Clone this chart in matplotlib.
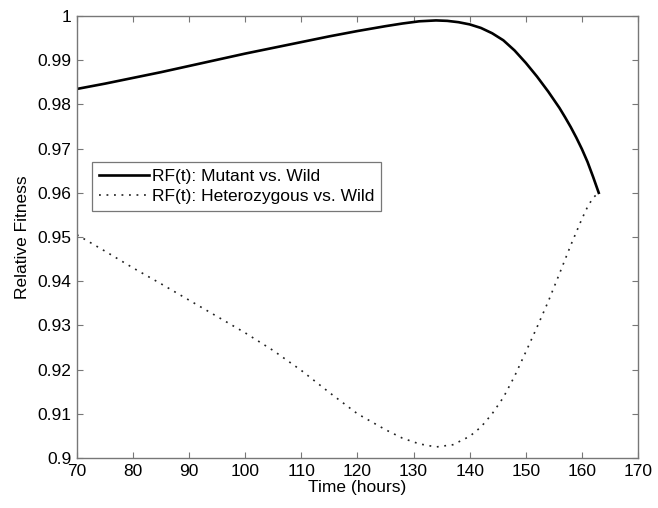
import matplotlib
matplotlib.use('Agg')
import matplotlib.pyplot as plt
from matplotlib.ticker import FuncFormatter

# values
t_mutant = [70, 75, 80, 85, 90, 95, 100, 105, 110, 115, 120, 125, 128, 131, 134, 136,
            138, 140, 142, 144, 146, 148, 150, 152, 154, 156, 157, 158, 159, 160,
            161, 162, 163]
rf_mutant = [0.9835, 0.9847, 0.9860, 0.9873, 0.9887, 0.9901, 0.9915, 0.9928, 0.9941,
             0.9954, 0.9966, 0.9977, 0.9983, 0.9988, 0.9990, 0.9989, 0.9986, 0.9981,
             0.9973, 0.9961, 0.9945, 0.9922, 0.9894, 0.9863, 0.9829, 0.9792, 0.9771,
             0.9749, 0.9725, 0.9699, 0.9670, 0.9636, 0.9600]

t_hetero = [70, 75, 80, 85, 90, 95, 100, 105, 110, 115, 120, 125, 128, 131, 134, 137,
            140, 142, 144, 146, 148, 150, 152, 154, 156, 158, 160, 161, 162, 163]
rf_hetero = [0.9505, 0.9468, 0.9430, 0.9394, 0.9357, 0.9320, 0.9283, 0.9243, 0.9198,
             0.9148, 0.9100, 0.9064, 0.9045, 0.9032, 0.9025, 0.9030, 0.9049, 0.9070,
             0.9100, 0.9137, 0.9185, 0.9240, 0.9296, 0.9354, 0.9417, 0.9481, 0.9541,
             0.9568, 0.9589, 0.9600]

x_ticks = [70, 80, 90, 100, 110, 120, 130, 140, 150, 160, 170]
y_ticks = [0.9, 0.91, 0.92, 0.93, 0.94, 0.95, 0.96, 0.97, 0.98, 0.99, 1.0]

plt.rcParams['font.family'] = ['Liberation Sans', 'DejaVu Sans']
plt.rcParams['font.size'] = 12.5

fig = plt.figure(figsize=(6.58, 5.08), dpi=100)
ax = fig.add_axes([0.117, 0.0984, 0.8526, 0.8701])

ax.plot(t_mutant, rf_mutant, color='black', linewidth=1.9,
        label='RF(t): Mutant vs. Wild')
ax.plot(t_hetero, rf_hetero, color='#222222', linewidth=1.2,
        linestyle=(0, (1.1, 3.4)), label='RF(t): Heterozygous vs. Wild')

ax.set_xlim(70, 170)
ax.set_ylim(0.9, 1.0)
ax.set_xticks(x_ticks)
ax.set_yticks(y_ticks)
ax.yaxis.set_major_formatter(FuncFormatter(lambda v, p: '%g' % round(v, 2)))
ax.tick_params(direction='in', length=4, width=0.8, color='#777777',
               top=True, right=True, labelsize=12.5, pad=4)
for s in ax.spines.values():
    s.set_color('#777777')
    s.set_linewidth(1.0)

ax.set_xlabel('Time (hours)', fontsize=12.5, labelpad=1)
ax.set_ylabel('Relative Fitness', fontsize=12.5, labelpad=5)

leg = ax.legend(loc='upper left', bbox_to_anchor=(92 / 658, 1 - 162 / 508),
                bbox_transform=fig.transFigure, borderaxespad=0,
                fancybox=False, framealpha=1, edgecolor='#777777',
                handlelength=2.9, handletextpad=0.15, labelspacing=0.3,
                borderpad=0.4, fontsize=12.5)
leg.get_frame().set_linewidth(0.9)

fig.savefig('out.png', dpi=100)
